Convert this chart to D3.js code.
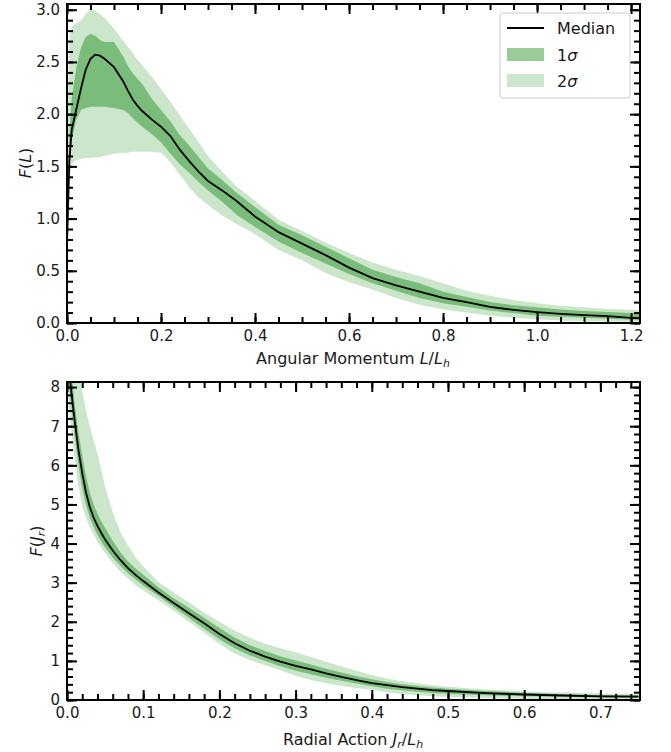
<!DOCTYPE html>
<html>
<head>
<meta charset="utf-8">
<script src="https://cdn.jsdelivr.net/npm/d3@7/dist/d3.min.js"></script>
<style>
body { margin: 0; background: #fff; }
svg { font-family: "DejaVu Sans", sans-serif; }
</style>
</head>
<body>
<div id="grafica"></div>
<script>
// Panel superior: F(L) frente a L/Lh
const angMom = [0, 0.005, 0.01, 0.02, 0.03, 0.04, 0.05, 0.06, 0.07, 0.08, 0.10, 0.12, 0.13, 0.14, 0.15, 0.16, 0.18, 0.20,
  0.22, 0.24, 0.26, 0.28, 0.30, 0.33, 0.36, 0.40, 0.45, 0.50, 0.55, 0.60, 0.65, 0.70, 0.75, 0.80,
  0.85, 0.90, 0.95, 1.00, 1.05, 1.10, 1.15, 1.20, 1.22]
const angMedian = [0.75, 1.55, 1.85, 2.05, 2.25, 2.43, 2.53, 2.57, 2.56, 2.53, 2.45, 2.31, 2.22, 2.14, 2.08, 2.03, 1.95, 1.88,
  1.79, 1.66, 1.55, 1.45, 1.36, 1.27, 1.17, 1.02, 0.87, 0.76, 0.65, 0.53, 0.43, 0.36, 0.30, 0.24,
  0.20, 0.155, 0.125, 0.105, 0.088, 0.075, 0.065, 0.05, 0.045]
const ang1Lo = [0.6, 1.45, 1.75, 1.95, 2.04, 2.06, 2.07, 2.07, 2.07, 2.07, 2.06, 2.04, 2.01, 1.96, 1.92, 1.88, 1.81, 1.73,
  1.62, 1.52, 1.44, 1.35, 1.27, 1.16, 1.04, 0.92, 0.78, 0.67, 0.57, 0.47, 0.38, 0.31, 0.24, 0.19,
  0.155, 0.12, 0.095, 0.07, 0.06, 0.05, 0.04, 0.03, 0.03]
const ang1Hi = [1.0, 1.8, 2.15, 2.45, 2.64, 2.74, 2.77, 2.75, 2.71, 2.69, 2.69, 2.55, 2.46, 2.39, 2.34, 2.29, 2.15, 2.04,
  1.93, 1.80, 1.70, 1.59, 1.48, 1.37, 1.25, 1.11, 0.94, 0.84, 0.73, 0.62, 0.51, 0.44, 0.38, 0.30,
  0.25, 0.20, 0.17, 0.15, 0.13, 0.115, 0.105, 0.096, 0.09]
const ang2Lo = [0.3, 1.35, 1.53, 1.56, 1.57, 1.58, 1.58, 1.59, 1.59, 1.60, 1.62, 1.63, 1.63, 1.64, 1.64, 1.64, 1.64, 1.63,
  1.54, 1.42, 1.30, 1.20, 1.13, 1.03, 0.95, 0.85, 0.70, 0.60, 0.48, 0.39, 0.32, 0.24, 0.175, 0.13,
  0.10, 0.07, 0.05, 0.035, 0.025, 0.02, 0.015, 0.012, 0.01]
const ang2Hi = [1.5, 2.7, 2.84, 2.87, 2.9, 2.96, 3.01, 2.99, 2.96, 2.92, 2.82, 2.70, 2.64, 2.58, 2.52, 2.47, 2.36, 2.24,
  2.12, 1.99, 1.86, 1.73, 1.60, 1.45, 1.31, 1.17, 0.99, 0.88, 0.77, 0.67, 0.58, 0.51, 0.45, 0.38,
  0.31, 0.26, 0.22, 0.19, 0.165, 0.15, 0.135, 0.127, 0.12]

// Panel inferior: F(Jr) frente a Jr/Lh
const radAct = [0.002, 0.005, 0.01, 0.015, 0.02, 0.025, 0.03, 0.035, 0.04, 0.045, 0.05, 0.06, 0.07, 0.08, 0.09, 0.10,
  0.12, 0.14, 0.16, 0.18, 0.20, 0.22, 0.24, 0.26, 0.28, 0.30, 0.32, 0.34, 0.36, 0.38, 0.40, 0.42,
  0.44, 0.46, 0.48, 0.50, 0.55, 0.60, 0.65, 0.70, 0.75]
const radMedian = [8.6, 8.0, 7.15, 6.4, 5.8, 5.3, 4.93, 4.66, 4.45, 4.27, 4.1, 3.82, 3.58, 3.37, 3.2, 3.04,
  2.75, 2.48, 2.22, 1.96, 1.69, 1.45, 1.26, 1.11, 0.98, 0.87, 0.78, 0.68, 0.59, 0.51, 0.43, 0.38,
  0.33, 0.29, 0.255, 0.23, 0.175, 0.14, 0.115, 0.095, 0.085]
const rad1Lo = [8.2, 7.6, 6.75, 6.0, 5.4, 4.98, 4.66, 4.42, 4.22, 4.05, 3.9, 3.64, 3.43, 3.24, 3.08, 2.93,
  2.66, 2.38, 2.1, 1.82, 1.55, 1.32, 1.14, 1.0, 0.86, 0.75, 0.66, 0.57, 0.49, 0.42, 0.35, 0.29,
  0.25, 0.21, 0.18, 0.16, 0.12, 0.095, 0.08, 0.065, 0.06]
const rad1Hi = [9.8, 8.6, 7.6, 6.85, 6.25, 5.72, 5.3, 5.0, 4.76, 4.57, 4.4, 4.07, 3.78, 3.55, 3.36, 3.2,
  2.88, 2.6, 2.36, 2.1, 1.84, 1.6, 1.4, 1.25, 1.12, 1.01, 0.91, 0.80, 0.70, 0.61, 0.53, 0.46,
  0.40, 0.36, 0.32, 0.29, 0.23, 0.185, 0.15, 0.13, 0.12]
const rad2Lo = [7.5, 7.0, 6.2, 5.45, 4.95, 4.65, 4.42, 4.22, 4.05, 3.9, 3.76, 3.5, 3.28, 3.1, 2.94, 2.8,
  2.55, 2.28, 2.0, 1.72, 1.44, 1.18, 1.02, 0.89, 0.76, 0.62, 0.51, 0.43, 0.36, 0.31, 0.26, 0.20,
  0.15, 0.12, 0.095, 0.08, 0.05, 0.035, 0.025, 0.02, 0.015]
const rad2Hi = [11, 10.5, 9.4, 8.5, 7.9, 7.4, 7.0, 6.65, 6.3, 5.9, 5.45, 4.8, 4.3, 3.95, 3.65, 3.42,
  3.02, 2.75, 2.5, 2.24, 2.0, 1.78, 1.59, 1.44, 1.32, 1.22, 1.10, 0.98, 0.86, 0.75, 0.64, 0.55,
  0.48, 0.43, 0.38, 0.34, 0.27, 0.22, 0.19, 0.165, 0.15]

const xTicksTop = [0, 0.2, 0.4, 0.6, 0.8, 1.0, 1.2]
const yTicksTop = [0, 0.5, 1.0, 1.5, 2.0, 2.5, 3.0]
const xTicksBottom = [0, 0.1, 0.2, 0.3, 0.4, 0.5, 0.6, 0.7]
const yTicksBottom = [0, 1, 2, 3, 4, 5, 6, 7, 8]

const legendLabels = ["Median", "1σ", "2σ"]

const width = 671
const height = 752
const left = 67, right = 640

const svg = d3.select('#grafica')
  .append("svg")
  .attr("width", width)
  .attr("height", height)

function drawPanel(cfg) {
  const xScale = d3.scaleLinear().domain(cfg.xDomain).range([left, right])
  const yScale = d3.scaleLinear().domain(cfg.yDomain).range([cfg.bottom, cfg.top])

  const g = svg.append("g")

  g.append("clipPath").attr("id", cfg.id)
    .append("rect")
    .attr("x", left).attr("y", cfg.top)
    .attr("width", right - left).attr("height", cfg.bottom - cfg.top)

  const rows = cfg.x.map((v, i) => ({
    x: v, med: cfg.med[i], lo1: cfg.lo1[i], hi1: cfg.hi1[i], lo2: cfg.lo2[i], hi2: cfg.hi2[i]
  }))

  const plot = g.append("g").attr("clip-path", "url(#" + cfg.id + ")")

  plot.append("path")
    .datum(rows)
    .attr("fill", "green")
    .attr("fill-opacity", 0.2)
    .attr("d", d3.area().x(d => xScale(d.x)).y0(d => yScale(d.lo2)).y1(d => yScale(d.hi2)))

  plot.append("path")
    .datum(rows)
    .attr("fill", "green")
    .attr("fill-opacity", 0.4)
    .attr("d", d3.area().x(d => xScale(d.x)).y0(d => yScale(d.lo1)).y1(d => yScale(d.hi1)))

  plot.append("path")
    .datum(rows)
    .attr("fill", "none")
    .attr("stroke", "black")
    .attr("stroke-width", 1.8)
    .attr("d", d3.line().x(d => xScale(d.x)).y(d => yScale(d.med)))

  // Ejes con marcas hacia dentro en los cuatro lados
  const xMinor = d3.range(cfg.xDomain[0], cfg.xDomain[1] + 1e-9, cfg.xMinor)
  const yMinor = d3.range(cfg.yDomain[0], cfg.yDomain[1] + 1e-9, cfg.yMinor)

  const axes = [
    { ax: d3.axisBottom(xScale), t: "translate(0," + cfg.bottom + ")", major: cfg.xTicks, minor: xMinor, labels: true, fmt: d3.format(".1f") },
    { ax: d3.axisTop(xScale), t: "translate(0," + cfg.top + ")", major: cfg.xTicks, minor: xMinor, labels: false },
    { ax: d3.axisLeft(yScale), t: "translate(" + left + ",0)", major: cfg.yTicks, minor: yMinor, labels: true, fmt: cfg.yFmt },
    { ax: d3.axisRight(yScale), t: "translate(" + right + ",0)", major: cfg.yTicks, minor: yMinor, labels: false }
  ]

  axes.forEach(a => {
    const minorG = g.append("g")
      .attr("transform", a.t)
      .call(a.ax.tickValues(a.minor).tickSize(-6).tickFormat(""))
    minorG.select(".domain").remove()
    minorG.selectAll("line").attr("stroke-width", 2)

    const majorG = g.append("g")
      .attr("transform", a.t)
      .call(a.ax.tickValues(a.major).tickSize(-10).tickPadding(a.labels ? 7 : 0)
        .tickFormat(a.labels ? a.fmt : ""))
    majorG.select(".domain").remove()
    majorG.selectAll("line").attr("stroke-width", 2)
    majorG.selectAll("text").attr("font-size", 15).attr("fill", "#1a1a1a")
      .attr("font-family", "DejaVu Sans")
  })

  g.append("rect")
    .attr("x", left).attr("y", cfg.top)
    .attr("width", right - left).attr("height", cfg.bottom - cfg.top)
    .attr("fill", "none")
    .attr("stroke", "black")
    .attr("stroke-width", 2)

  return g
}

const topPanel = drawPanel({
  id: "clipTop", top: 4, bottom: 323,
  xDomain: [0, 1.219], yDomain: [0, 3.055],
  xTicks: xTicksTop, yTicks: yTicksTop, xMinor: 0.05, yMinor: 0.1,
  yFmt: d3.format(".1f"),
  x: angMom, med: angMedian, lo1: ang1Lo, hi1: ang1Hi, lo2: ang2Lo, hi2: ang2Hi
})

const bottomPanel = drawPanel({
  id: "clipBottom", top: 382, bottom: 700,
  xDomain: [0, 0.752], yDomain: [0, 8.13],
  xTicks: xTicksBottom, yTicks: yTicksBottom, xMinor: 0.02, yMinor: 0.2,
  yFmt: d3.format("d"),
  x: radAct, med: radMedian, lo1: rad1Lo, hi1: rad1Hi, lo2: rad2Lo, hi2: rad2Hi
})

// Etiquetas de los ejes
const labelTop = svg.append("text")
  .attr("x", 353).attr("y", 364)
  .attr("text-anchor", "middle").attr("font-size", 16).attr("fill", "#1a1a1a")
labelTop.append("tspan").text("Angular Momentum ")
labelTop.append("tspan").attr("font-style", "italic").text("L")
labelTop.append("tspan").text("/")
labelTop.append("tspan").attr("font-style", "italic").text("L")
labelTop.append("tspan").attr("font-style", "italic").attr("font-size", 11).attr("dy", 3).text("h")

const labelBottom = svg.append("text")
  .attr("x", 353).attr("y", 745)
  .attr("text-anchor", "middle").attr("font-size", 16).attr("fill", "#1a1a1a")
labelBottom.append("tspan").text("Radial Action ")
labelBottom.append("tspan").attr("font-style", "italic").text("J")
labelBottom.append("tspan").attr("font-style", "italic").attr("font-size", 11).attr("dy", 3).text("r")
labelBottom.append("tspan").attr("dy", -3).text("/")
labelBottom.append("tspan").attr("font-style", "italic").text("L")
labelBottom.append("tspan").attr("font-style", "italic").attr("font-size", 11).attr("dy", 3).text("h")

const yLabTop = svg.append("text")
  .attr("transform", "translate(31,163) rotate(-90)")
  .attr("text-anchor", "middle").attr("font-size", 16).attr("fill", "#1a1a1a")
yLabTop.append("tspan").attr("font-style", "italic").text("F")
yLabTop.append("tspan").text("(")
yLabTop.append("tspan").attr("font-style", "italic").text("L")
yLabTop.append("tspan").text(")")

const yLabBottom = svg.append("text")
  .attr("transform", "translate(42,541) rotate(-90)")
  .attr("text-anchor", "middle").attr("font-size", 16).attr("fill", "#1a1a1a")
yLabBottom.append("tspan").attr("font-style", "italic").text("F")
yLabBottom.append("tspan").text("(")
yLabBottom.append("tspan").attr("font-style", "italic").text("J")
yLabBottom.append("tspan").attr("font-style", "italic").attr("font-size", 11).attr("dy", 3).text("r")
yLabBottom.append("tspan").attr("dy", -3).text(")")

// Leyenda
const legend = svg.append("g")
legend.append("rect")
  .attr("x", 500).attr("y", 13).attr("width", 130).attr("height", 85)
  .attr("rx", 3)
  .attr("fill", "white").attr("fill-opacity", 0.8)
  .attr("stroke", "#cccccc").attr("stroke-width", 1)

legend.append("line")
  .attr("x1", 507).attr("x2", 544).attr("y1", 28).attr("y2", 28)
  .attr("stroke", "black").attr("stroke-width", 1.8)
legend.append("rect")
  .attr("x", 507).attr("y", 48).attr("width", 37).attr("height", 13)
  .attr("fill", "green").attr("fill-opacity", 0.4)
legend.append("rect")
  .attr("x", 507).attr("y", 74).attr("width", 37).attr("height", 13)
  .attr("fill", "green").attr("fill-opacity", 0.2)

legendLabels.forEach((lab, i) => {
  const t = legend.append("text")
    .attr("x", 557).attr("y", 34 + i * 26.5)
    .attr("font-size", 16).attr("fill", "#1a1a1a")
  if (i == 0) {
    t.text(lab)
  } else {
    t.append("tspan").text(lab.slice(0, 1))
    t.append("tspan").attr("font-style", "italic").text(lab.slice(1))
  }
})
</script>
</body>
</html>
